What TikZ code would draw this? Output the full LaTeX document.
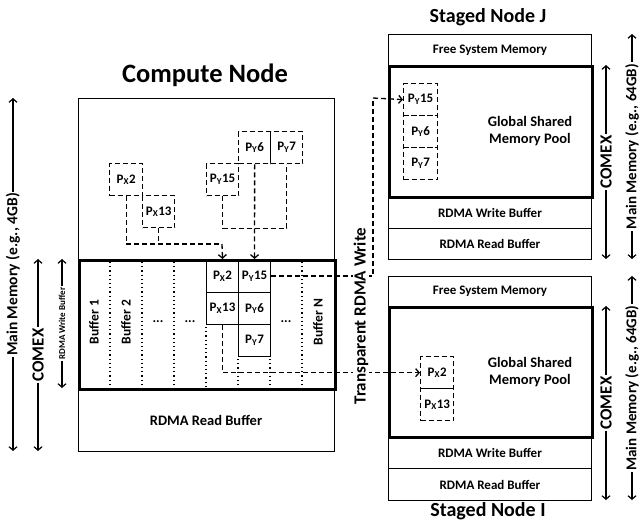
\documentclass[tikz,border=0pt]{standalone}
\usepackage{fontspec}
\setmainfont{Carlito}
\usetikzlibrary{arrows.meta}
\newcommand{\myfs}[1]{\fontsize{#1}{#1}\selectfont\bfseries}
\newcommand{\Px}[1]{P\textsubscript{X}#1}
\newcommand{\Py}[1]{P\textsubscript{Y}#1}
\tikzset{
  box/.style={draw, line width=1pt, inner sep=0pt, anchor=north west, font=\myfs{13}},
  thickbox/.style={draw, line width=2.8pt, inner sep=0pt, anchor=north west},
  cellbox/.style={draw, line width=1.1pt, inner sep=0pt, anchor=north west, minimum width=32pt, minimum height=32pt, font=\myfs{13}},
  dbox/.style={draw, dash pattern=on 5pt off 3pt, line width=1.3pt, inner sep=0pt, anchor=north west, minimum width=33pt, minimum height=32pt, font=\myfs{13}},
  dline/.style={dash pattern=on 5pt off 3pt, line width=1.3pt},
  darrow/.style={dline, -{Straight Barb[length=3.5pt,width=8pt]}},
  dotline/.style={dash pattern=on 1.2pt off 3pt, line width=1.2pt},
  dimarrow/.style={line width=1.2pt, {Straight Barb[length=3.5pt,width=8pt]}-{Straight Barb[length=3.5pt,width=8pt]}},
  dimlabel/.style={fill=white, rotate=90, inner sep=1.5pt},
}
\begin{document}
\begin{tikzpicture}[x=1pt, y=-1pt]
\useasboundingbox (0,0) rectangle (640,528);

% ---------------- Compute node ----------------
\node[font=\myfs{26.5}] (ctitle) at (205,75) {Compute Node};
\node[box, minimum width=256pt, minimum height=353pt] (couter) at (78,98) {};
\node[font=\myfs{14.5}] (cread) at (206,420) {RDMA Read Buffer};
\node[thickbox, minimum width=256pt, minimum height=129pt] (cwrite) at (78,259) {};

% dotted buffer separators
\foreach \x in {110,142,174,302} \draw[dotline] (\x,262) -- (\x,386);
\draw[dotline] (206,327) -- (206,386);
\draw[dotline] (238,359) -- (238,386);
\draw[dotline] (270,359) -- (270,386);

% buffer labels
\node[rotate=90, font=\myfs{13.5}] (b1) at (94,322) {Buffer 1};
\node[rotate=90, font=\myfs{13.5}] (b2) at (126,322) {Buffer 2};
\node[font=\myfs{13.5}] (e1) at (158,322) {...};
\node[font=\myfs{13.5}] (e2) at (190,322) {...};
\node[font=\myfs{13.5}] (e3) at (286,322) {...};
\node[rotate=90, font=\myfs{13.5}] (bn) at (318,322) {Buffer N};

% cells
\node[cellbox, minimum height=33pt] (cpx2) at (206,259) {\Px{2}};
\node[cellbox] (cpx13) at (206,292) {\Px{13}};
\node[cellbox, minimum height=33pt] (cpy15) at (238,259) {\Py{15}};
\node[cellbox] (cpy6) at (238,292) {\Py{6}};
\node[cellbox] (cpy7) at (238,324) {\Py{7}};

% dashed pages in compute node
\node[dbox] (dpx2) at (109,163) {\Px{2}};
\node[dbox, minimum width=32pt] (dpx13) at (142,195) {\Px{13}};
\node[dbox, minimum width=32pt] (dpy15) at (206,163) {\Py{15}};
\node[dbox, minimum width=32pt] (dpy6) at (238,131) {\Py{6}};
\node[dbox, minimum width=32pt] (dpy7) at (270,131) {\Py{7}};

\coordinate (m1) at (222,244);
\draw[dline] (dpx2.south) |- (m1);
\draw[dline] (dpx13.south) -- (dpx13.south |- m1);
\draw[darrow] (m1) -- (cpx2.north);
\draw[dline] (dpy15.south) -- ++(0,32) -| (dpy7.south);
\draw[darrow] (dpy6.south) -- (cpy15.north);

% ---------------- Staged node J ----------------
\node[font=\myfs{20}] (jtitle) at (488,17) {Staged Node J};
\node[box, minimum width=203pt, minimum height=31pt] (jfree) at (388,34) {Free System Memory};
\node[thickbox, minimum width=203pt, minimum height=131pt] (jpool) at (388,65) {};
\node[box, minimum width=203pt, minimum height=32pt] (jwrite) at (388,196) {RDMA Write Buffer};
\node[box, minimum width=203pt, minimum height=31pt] (jread) at (388,228) {RDMA Read Buffer};
\node[font=\myfs{14.5}, align=center] (jpooltext) at (530,131) {Global Shared\\[2pt]Memory Pool};
\node[dbox, minimum width=34pt] (jpy15) at (403,83) {\Py{15}};
\node[dbox, minimum width=34pt] (jpy6) at (403,115) {\Py{6}};
\node[dbox, minimum width=34pt] (jpy7) at (403,147) {\Py{7}};

% ---------------- Staged node I ----------------
\node[font=\myfs{20}] (ititle) at (488,511) {Staged Node I};
\node[box, minimum width=203pt, minimum height=30pt] (ifree) at (388,276) {Free System Memory};
\node[thickbox, minimum width=203pt, minimum height=130pt] (ipool) at (388,306) {};
\node[box, minimum width=203pt, minimum height=32pt] (iwrite) at (388,436) {RDMA Write Buffer};
\node[box, minimum width=203pt, minimum height=32pt] (iread) at (388,468) {RDMA Read Buffer};
\node[font=\myfs{14.5}, align=center] (ipooltext) at (530,372) {Global Shared\\[2pt]Memory Pool};
\node[dbox] (ipx2) at (420,356) {\Px{2}};
\node[dbox] (ipx13) at (420,388) {\Px{13}};

% ---------------- transparent RDMA writes ----------------
\coordinate (jturn) at (373,98);
\draw[dline] (cpy15.east) -| (jturn);
\draw[darrow] (jturn) -- (jpy15.west);
\draw[darrow] (cpx13.south) |- (ipx2.west);
\node[rotate=90, fill=white, inner sep=1pt, font=\myfs{17}] (trw) at (361,316) {Transparent RDMA Write};

% ---------------- dimension arrows ----------------
\coordinate (lm1) at (13,98);  \coordinate (lm2) at (13,451);
\coordinate (lc1) at (38,259); \coordinate (lc2) at (38,451);
\coordinate (lw1) at (62,259); \coordinate (lw2) at (62,388);
\draw[dimarrow] (lm1) -- node[dimlabel, font=\myfs{15.5}] {Main Memory (e.g., 4GB)} (lm2);
\draw[dimarrow] (lc1) -- node[dimlabel, font=\myfs{17}] {COMEX} (lc2);
\draw[dimarrow] (lw1) -- node[dimlabel, font=\myfs{9}] {RDMA Write Buffer} (lw2);

\coordinate (jc1) at (606,65);  \coordinate (jc2) at (606,259);
\coordinate (jm1) at (632,34);  \coordinate (jm2) at (632,259);
\draw[dimarrow] (jc1) -- node[dimlabel, font=\myfs{17}] {COMEX} (jc2);
\draw[dimarrow] (jm1) -- node[dimlabel, font=\myfs{15}] {Main Memory (e.g., 64GB)} (jm2);

\coordinate (ic1) at (606,306); \coordinate (ic2) at (606,500);
\coordinate (im1) at (632,276); \coordinate (im2) at (632,500);
\draw[dimarrow] (ic1) -- node[dimlabel, font=\myfs{17}] {COMEX} (ic2);
\draw[dimarrow] (im1) -- node[dimlabel, font=\myfs{15}] {Main Memory (e.g., 64GB)} (im2);
\end{tikzpicture}
\end{document}
